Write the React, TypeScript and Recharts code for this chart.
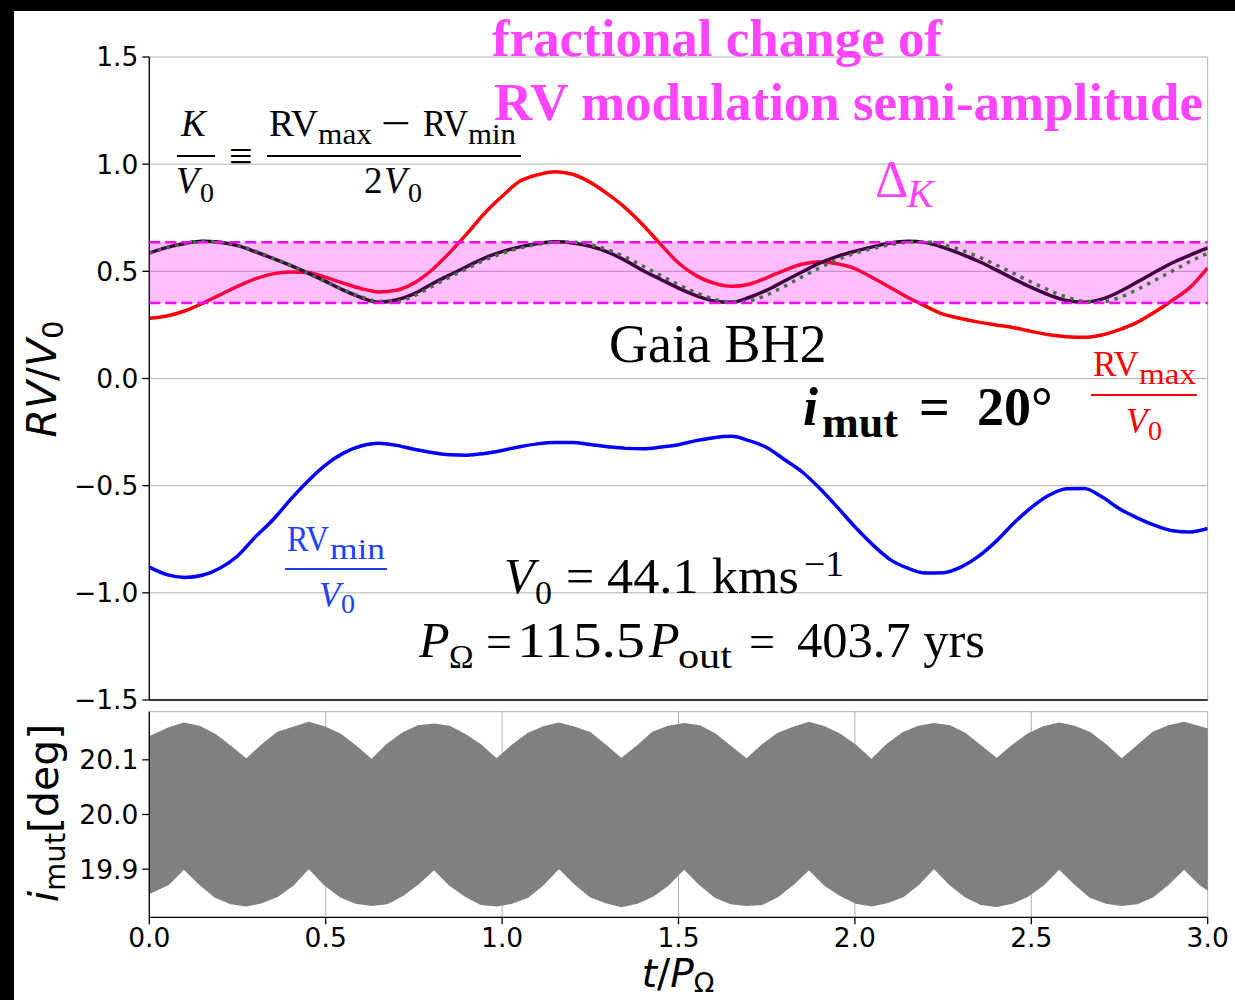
import React from 'react'
import { ComposedChart, Line, Area, XAxis, YAxis, CartesianGrid, ReferenceArea, ReferenceLine } from 'recharts'

// t / P_Omega sampling of the RV curves
const T_RV = [
  0, 0.05, 0.1, 0.15, 0.2, 0.25, 0.3, 0.35, 0.4, 0.45, 0.5, 0.55, 0.6, 0.65, 0.7, 0.75, 0.8, 0.85, 0.9, 0.95,
  1, 1.05, 1.1, 1.15, 1.2, 1.25, 1.3, 1.35, 1.4, 1.45, 1.5, 1.55, 1.6, 1.65, 1.7, 1.75, 1.8, 1.85, 1.9, 1.95,
  2, 2.05, 2.1, 2.15, 2.2, 2.25, 2.3, 2.35, 2.4, 2.45, 2.5, 2.55, 2.6, 2.65, 2.7, 2.75, 2.8, 2.85, 2.9, 2.95, 3,
]

// RV_max / V0 (red)
const RV_MAX = [
  0.281, 0.292, 0.315, 0.35, 0.39, 0.43, 0.465, 0.488, 0.497, 0.495, 0.472, 0.445, 0.42, 0.404, 0.412, 0.445, 0.505, 0.585, 0.675, 0.77,
  0.85, 0.92, 0.95, 0.965, 0.953, 0.915, 0.86, 0.795, 0.715, 0.625, 0.539, 0.48, 0.445, 0.43, 0.44, 0.47, 0.505, 0.533, 0.545, 0.535,
  0.513, 0.47, 0.425, 0.378, 0.338, 0.3, 0.28, 0.263, 0.25, 0.237, 0.22, 0.204, 0.195, 0.192, 0.203, 0.228, 0.262, 0.31, 0.365, 0.425, 0.516,
]

// RV_min / V0 (blue)
const RV_MIN = [
  -0.88, -0.915, -0.928, -0.918, -0.885, -0.828, -0.74, -0.66, -0.565, -0.478, -0.403, -0.348, -0.315, -0.302, -0.312, -0.33, -0.345, -0.356, -0.358, -0.35,
  -0.336, -0.318, -0.305, -0.299, -0.299, -0.308, -0.318, -0.326, -0.328, -0.32, -0.309, -0.29, -0.276, -0.27, -0.29, -0.322, -0.378, -0.435, -0.512, -0.6,
  -0.692, -0.775, -0.845, -0.885, -0.908, -0.906, -0.88, -0.83, -0.76, -0.675, -0.602, -0.545, -0.514, -0.513, -0.552, -0.608, -0.65, -0.685, -0.71, -0.716, -0.7,
]

// K / V0 (black)
const K_RATIO = [
  0.586, 0.612, 0.63, 0.64, 0.636, 0.62, 0.592, 0.56, 0.528, 0.492, 0.453, 0.412, 0.378, 0.356, 0.366, 0.395, 0.44, 0.482, 0.522, 0.562,
  0.592, 0.614, 0.63, 0.638, 0.632, 0.617, 0.59, 0.55, 0.503, 0.462, 0.422, 0.387, 0.362, 0.356, 0.378, 0.412, 0.455, 0.497, 0.538, 0.57,
  0.594, 0.614, 0.632, 0.64, 0.634, 0.612, 0.582, 0.547, 0.507, 0.465, 0.425, 0.39, 0.364, 0.356, 0.37, 0.405, 0.45, 0.496, 0.54, 0.576, 0.609,
]

// sinusoidal fit of K / V0 (dotted)
const K_FIT = [
  0.584, 0.61, 0.629, 0.639, 0.636, 0.621, 0.595, 0.562, 0.527, 0.49, 0.452, 0.414, 0.382, 0.36, 0.36, 0.385, 0.428, 0.472, 0.512, 0.552,
  0.584, 0.608, 0.626, 0.636, 0.636, 0.624, 0.6, 0.566, 0.524, 0.48, 0.438, 0.4, 0.37, 0.356, 0.362, 0.39, 0.43, 0.474, 0.516, 0.554,
  0.584, 0.606, 0.624, 0.636, 0.638, 0.624, 0.6, 0.568, 0.53, 0.49, 0.45, 0.412, 0.38, 0.36, 0.358, 0.378, 0.415, 0.458, 0.502, 0.546, 0.584,
]

// Delta_K band limits
const K_BAND = [0.352, 0.636]

// envelope of the fast i_mut oscillation
const T_IMUT = [
  0, 0.054, 0.098, 0.142, 0.187, 0.231, 0.275, 0.319, 0.364, 0.408, 0.452, 0.496, 0.541, 0.585, 0.63, 0.674, 0.718, 0.762,
  0.807, 0.851, 0.895, 0.94, 0.984, 1.028, 1.073, 1.117, 1.161, 1.206, 1.25, 1.294, 1.338, 1.383, 1.427, 1.471, 1.516,
  1.56, 1.604, 1.648, 1.693, 1.737, 1.781, 1.826, 1.87, 1.914, 1.959, 2.003, 2.047, 2.091, 2.136, 2.18, 2.224, 2.269,
  2.313, 2.357, 2.402, 2.446, 2.49, 2.534, 2.579, 2.623, 2.667, 2.712, 2.756, 2.8, 2.845, 2.889, 2.933, 2.978, 3,
]
const IMUT_HIGH = [
  20.142,
  20.158, 20.167, 20.161, 20.146, 20.124, 20.101, 20.127, 20.15,
  20.159, 20.168, 20.16, 20.147, 20.125, 20.1, 20.128, 20.149,
  20.162, 20.165, 20.161, 20.146, 20.127, 20.101, 20.126, 20.148,
  20.16, 20.167, 20.159, 20.149, 20.126, 20.102, 20.125, 20.15,
  20.161, 20.166, 20.162, 20.147, 20.124, 20.101, 20.127, 20.148,
  20.159, 20.168, 20.16, 20.146, 20.126, 20.1, 20.128, 20.149,
  20.161, 20.166, 20.162, 20.148, 20.125, 20.102, 20.126, 20.147,
  20.16, 20.167, 20.161, 20.149, 20.127, 20.101, 20.125, 20.15,
  20.162, 20.168, 20.16, 20.156,
]
const IMUT_LOW = [
  19.856,
  19.872, 19.901, 19.873, 19.849, 19.837, 19.833, 19.839, 19.851,
  19.871, 19.902, 19.872, 19.85, 19.838, 19.834, 19.837, 19.852,
  19.873, 19.9, 19.871, 19.851, 19.836, 19.833, 19.838, 19.849,
  19.872, 19.902, 19.873, 19.85, 19.839, 19.832, 19.838, 19.851,
  19.871, 19.901, 19.872, 19.849, 19.837, 19.834, 19.836, 19.85,
  19.873, 19.9, 19.871, 19.852, 19.838, 19.833, 19.839, 19.85,
  19.872, 19.902, 19.872, 19.85, 19.836, 19.832, 19.838, 19.851,
  19.871, 19.901, 19.873, 19.849, 19.838, 19.834, 19.837, 19.85,
  19.873, 19.901, 19.872, 19.862,
]

const X_TICKS = [0, 0.5, 1, 1.5, 2, 2.5, 3]
const RV_TICKS = [-1.5, -1, -0.5, 0, 0.5, 1, 1.5]
const IMUT_TICKS = [19.9, 20, 20.1]

const W = 1235
const SANS = '"DejaVu Sans", sans-serif'
const SERIF = '"Liberation Serif", "Times New Roman", serif'
const MAGENTA = '#ff44ff'
const GRID = '#b0b0b0'
const FIT = 'spacingAndGlyphs'
const tickStyle = { fontSize: 26.5, fill: '#000', fontFamily: SANS }
const axisLine = { stroke: '#000', strokeWidth: 1.3 }
const fmt = (v: number) => (v < 0 ? '\u2212' : '') + Math.abs(v).toFixed(1)

const rvData = T_RV.map((t, i) => ({ t, rvMax: RV_MAX[i], rvMin: RV_MIN[i], k: K_RATIO[i], kFit: K_FIT[i] }))
const imutData = T_IMUT.map((t, i) => ({ t, range: [IMUT_LOW[i], IMUT_HIGH[i]] }))

function RvPanel() {
  return (
    <ComposedChart width={W} height={730} data={rvData} margin={{ top: 57, right: 27.3, bottom: 18, left: 69.3 }}
      style={{ overflow: 'visible' }}>
      <CartesianGrid stroke={GRID} strokeWidth={1} />
      <XAxis dataKey="t" type="number" domain={[0, 3]} ticks={X_TICKS} interval={0} height={12} tickSize={7}
        tick={false} axisLine={axisLine} tickLine={{ stroke: '#000', strokeWidth: 1.3 }} allowDataOverflow />
      <XAxis xAxisId="top" dataKey="t" type="number" orientation="top" domain={[0, 3]} height={0}
        tick={false} tickLine={false} axisLine={axisLine} />
      <YAxis type="number" domain={[-1.5, 1.5]} ticks={RV_TICKS} interval={0} width={80} tickSize={7} tickMargin={4}
        tick={tickStyle} tickFormatter={fmt} axisLine={axisLine} tickLine={{ stroke: '#000', strokeWidth: 1.3 }} allowDataOverflow />
      <YAxis yAxisId="right" type="number" orientation="right" domain={[-1.5, 1.5]} width={0}
        tick={false} tickLine={false} axisLine={axisLine} />
      <Line dataKey="rvMax" type="monotone" stroke="#ff0000" strokeWidth={3.5} dot={false} isAnimationActive={false} />
      <Line dataKey="rvMin" type="monotone" stroke="#0000ff" strokeWidth={3.5} dot={false} isAnimationActive={false} />
      <Line dataKey="k" type="monotone" stroke="#000000" strokeWidth={3.5} dot={false} isAnimationActive={false} />
      <Line dataKey="kFit" type="monotone" stroke="#0f8f0f" strokeWidth={3.5} strokeDasharray="3.5 5.5" dot={false} isAnimationActive={false} />
      <ReferenceArea y1={K_BAND[0]} y2={K_BAND[1]} fill="#ff00ff" fillOpacity={0.25} stroke="none" zIndex={1000} />
      <ReferenceLine y={K_BAND[0]} stroke="#ff00ff" strokeWidth={2.5} strokeDasharray="11 5" zIndex={1000} />
      <ReferenceLine y={K_BAND[1]} stroke="#ff00ff" strokeWidth={2.5} strokeDasharray="11 5" zIndex={1000} />
    </ComposedChart>
  )
}

function ImutPanel() {
  return (
    <ComposedChart width={W} height={300} data={imutData} margin={{ top: 11.7, right: 27.3, bottom: 42.7, left: 69.3 }}>
      <CartesianGrid stroke={GRID} strokeWidth={1} />
      <XAxis dataKey="t" type="number" domain={[0, 3]} ticks={X_TICKS} interval={0} height={40} tickSize={7} tickMargin={4}
        tick={tickStyle} tickFormatter={(v: number) => v.toFixed(1)} axisLine={axisLine} tickLine={{ stroke: '#000', strokeWidth: 1.3 }} />
      <XAxis xAxisId="top" dataKey="t" type="number" orientation="top" domain={[0, 3]} height={0}
        tick={false} tickLine={false} axisLine={axisLine} />
      <YAxis type="number" domain={[19.812, 20.188]} ticks={IMUT_TICKS} interval={0} width={80} tickSize={7} tickMargin={4}
        tick={tickStyle} tickFormatter={(v: number) => v.toFixed(1)} axisLine={axisLine} tickLine={{ stroke: '#000', strokeWidth: 1.3 }} allowDataOverflow />
      <YAxis yAxisId="right" type="number" orientation="right" domain={[19.812, 20.188]} width={0}
        tick={false} tickLine={false} axisLine={axisLine} />
      <Area dataKey="range" type="linear" stroke="#808080" strokeWidth={1.5} fill="#808080" fillOpacity={1}
        dot={false} activeDot={false} isAnimationActive={false} />
    </ComposedChart>
  )
}

function Annotations() {
  return (
    <svg width={W} height={1000} style={{ position: 'absolute', left: 0, top: 0, pointerEvents: 'none' }}>
      <rect x={0} y={0} width={W} height={11} fill="#000" />
      <rect x={0} y={0} width={14} height={1000} fill="#000" />

      {/* headline */}
      <g fontFamily={SERIF} fontWeight="bold" fontSize={52} fill={MAGENTA}>
        <text x={492} y={56} textLength={450} lengthAdjust={FIT}>fractional change of</text>
        <text x={494} y={120} textLength={709} lengthAdjust={FIT}>RV modulation semi-amplitude</text>
      </g>

      {/* K / V0 definition */}
      <g fontFamily={SERIF} fontSize={37} fill="#000">
        <text x={181} y={136} fontStyle="italic">K</text>
        <line x1={177} x2={215} y1={156} y2={156} stroke="#000" strokeWidth={2} />
        <text y={193}>
          <tspan x={176} fontStyle="italic">V</tspan>
          <tspan x={200} y={202} fontSize={28}>0</tspan>
        </text>
        <text x={229} y={170} fontSize={42}>≡</text>
        <line x1={267} x2={521} y1={156} y2={156} stroke="#000" strokeWidth={2} />
        <text y={136}>
          <tspan x={269} textLength={49} lengthAdjust={FIT}>RV</tspan>
          <tspan x={318} y={144} fontSize={30} textLength={54} lengthAdjust={FIT}>max</tspan>
          <tspan x={381} y={138} fontSize={44} textLength={30} lengthAdjust={FIT}>−</tspan>
          <tspan x={423} y={136} textLength={45} lengthAdjust={FIT}>RV</tspan>
          <tspan x={468} y={144} fontSize={30} textLength={48} lengthAdjust={FIT}>min</tspan>
        </text>
        <text y={193}>
          <tspan x={364}>2</tspan>
          <tspan x={384} fontStyle="italic">V</tspan>
          <tspan x={408} y={202} fontSize={28}>0</tspan>
        </text>
      </g>

      {/* Delta_K */}
      <text y={197} fontFamily={SERIF} fill={MAGENTA}>
        <tspan x={875} fontSize={52}>Δ</tspan>
        <tspan x={907} y={207} fontSize={40} fontStyle="italic">K</tspan>
      </text>

      <text x={609} y={362} fontFamily={SERIF} fontSize={54} fill="#000">Gaia BH2</text>

      {/* i_mut = 20 deg */}
      <text y={425} fontFamily={SERIF} fontWeight="bold" fontSize={54} fill="#000">
        <tspan x={803} fontStyle="italic">i</tspan>
        <tspan x={822} y={437} fontSize={44} textLength={76} lengthAdjust={FIT}>mut</tspan>
        <tspan x={919} y={425}>=</tspan>
        <tspan x={977}>20°</tspan>
      </text>

      {/* RV_max / V0 */}
      <g fontFamily={SERIF} fill="#ff0000">
        <text y={376}>
          <tspan x={1093} fontSize={35} textLength={46} lengthAdjust={FIT}>RV</tspan>
          <tspan x={1139} y={384} fontSize={30} textLength={57} lengthAdjust={FIT}>max</tspan>
        </text>
        <line x1={1091} x2={1197} y1={395} y2={395} stroke="#ff0000" strokeWidth={2} />
        <text y={433}>
          <tspan x={1126} fontSize={35} fontStyle="italic">V</tspan>
          <tspan x={1148} y={440} fontSize={28}>0</tspan>
        </text>
      </g>

      {/* RV_min / V0 */}
      <g fontFamily={SERIF} fill="#1f40ff">
        <text y={551}>
          <tspan x={287} fontSize={35} textLength={42} lengthAdjust={FIT}>RV</tspan>
          <tspan x={330} y={559} fontSize={30} textLength={55} lengthAdjust={FIT}>min</tspan>
        </text>
        <line x1={285} x2={387} y1={569} y2={569} stroke="#1f40ff" strokeWidth={2} />
        <text y={607}>
          <tspan x={319} fontSize={35} fontStyle="italic">V</tspan>
          <tspan x={341} y={613} fontSize={28}>0</tspan>
        </text>
      </g>

      {/* V0 and P_Omega */}
      <g fontFamily={SERIF} fontSize={50} fill="#000">
        <text y={593}>
          <tspan x={504} fontStyle="italic">V</tspan>
          <tspan x={535} y={604} fontSize={34}>0</tspan>
          <tspan x={566} y={593}>=</tspan>
          <tspan x={607} textLength={192} lengthAdjust={FIT}>44.1 kms</tspan>
          <tspan x={804} y={576} fontSize={35} textLength={40} lengthAdjust={FIT}>−1</tspan>
        </text>
        <text y={657}>
          <tspan x={419} fontStyle="italic">P</tspan>
          <tspan x={449} y={668} fontSize={33}>Ω</tspan>
          <tspan x={486} y={657} fontSize={46}>=</tspan>
          <tspan x={517} textLength={128} lengthAdjust={FIT}>115.5</tspan>
          <tspan x={649} fontStyle="italic">P</tspan>
          <tspan x={678} y={668} fontSize={35} textLength={54} lengthAdjust={FIT}>out</tspan>
          <tspan x={749} y={657} fontSize={46}>=</tspan>
          <tspan x={797} textLength={188} lengthAdjust={FIT}>403.7 yrs</tspan>
        </text>
      </g>

      {/* axis labels */}
      <g fontFamily={SANS} fontSize={41} fill="#000">
        <text x={56} y={379} textAnchor="middle" transform="rotate(-90 56 379)">
          <tspan fontStyle="italic">RV</tspan>/<tspan fontStyle="italic">V</tspan><tspan fontSize={29} dy={7}>0</tspan>
        </text>
        <text x={58} y={813} textAnchor="middle" transform="rotate(-90 58 813)">
          <tspan fontStyle="italic">i</tspan><tspan fontSize={29} dy={7}>mut</tspan><tspan dy={-7}>[deg]</tspan>
        </text>
        <text x={678} y={987} fontSize={39} textAnchor="middle">
          <tspan fontStyle="italic">t</tspan>/<tspan fontStyle="italic">P</tspan><tspan fontSize={27} dy={5}>Ω</tspan>
        </text>
      </g>
    </svg>
  )
}

export default function App() {
  return (
    <div style={{ position: 'absolute', left: 0, top: 0, width: W, height: 1000, background: '#fff', overflow: 'hidden' }}>
      <div style={{ position: 'absolute', left: 0, top: 0 }}>
        <RvPanel />
      </div>
      <div style={{ position: 'absolute', left: 0, top: 700 }}>
        <ImutPanel />
      </div>
      <Annotations />
    </div>
  )
}
